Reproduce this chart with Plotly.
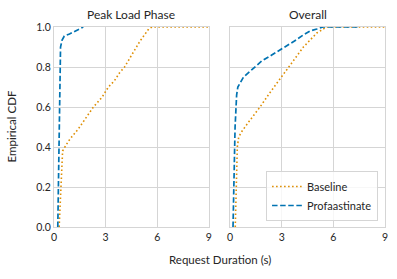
import plotly.graph_objects as go
from plotly.subplots import make_subplots

# Peak Load Phase
peak_base_x = [0.3, 0.38, 0.42, 0.45, 0.5, 0.7, 0.93, 1.41, 1.8, 2.29, 2.8, 3.16, 3.5, 3.8, 4.1, 4.5, 5.0, 5.5, 5.7, 9.0]
peak_base_y = [0.0, 0.15, 0.30, 0.35, 0.38, 0.41, 0.44, 0.49, 0.54, 0.60, 0.65, 0.70, 0.73, 0.77, 0.80, 0.86, 0.93, 0.99, 1.0, 1.0]
peak_prof_x = [0.22, 0.28, 0.33, 0.38, 0.47, 0.6, 0.9, 1.12, 1.4, 1.7]
peak_prof_y = [0.0, 0.4, 0.8, 0.90, 0.935, 0.955, 0.965, 0.975, 0.985, 1.0]

# Overall
all_base_x = [0.3, 0.38, 0.42, 0.5, 0.7, 1.12, 1.74, 2.3, 2.9, 3.6, 4.26, 5.04, 5.6, 9.0]
all_base_y = [0.0, 0.2, 0.40, 0.45, 0.48, 0.53, 0.60, 0.67, 0.74, 0.82, 0.90, 0.97, 1.0, 1.0]
all_prof_x = [0.17, 0.29, 0.38, 0.45, 0.78, 1.45, 1.84, 2.42, 3.2, 3.74, 4.25, 4.65, 5.04, 5.4, 7.4]
all_prof_y = [0.0, 0.5, 0.66, 0.70, 0.75, 0.80, 0.83, 0.86, 0.90, 0.93, 0.96, 0.98, 0.99, 1.0, 1.0]

titles = ["Peak Load Phase", "Overall"]
x_ticks = [0, 3, 6, 9]
y_ticks = [0.0, 0.2, 0.4, 0.6, 0.8, 1.0]

ORANGE = "#DE8F05"
BLUE = "#0173B2"
FONT = "Lato"
TXT = "#262626"

fig = make_subplots(rows=1, cols=2, shared_yaxes=True, horizontal_spacing=0.064)

for col, (bx, by, px, py) in enumerate([(peak_base_x, peak_base_y, peak_prof_x, peak_prof_y),
                                         (all_base_x, all_base_y, all_prof_x, all_prof_y)], start=1):
    fig.add_trace(go.Scatter(x=bx, y=by, mode="lines", name="Baseline",
                             line=dict(color=ORANGE, width=1.6, dash="1.6px,2.4px"),
                             showlegend=(col == 2)), row=1, col=col)
    fig.add_trace(go.Scatter(x=px, y=py, mode="lines", name="Profaastinate",
                             line=dict(color=BLUE, width=1.7, dash="5.5px,2.6px"),
                             showlegend=(col == 2)), row=1, col=col)

axis_common = dict(showgrid=True, gridcolor="#D5D5D5", gridwidth=1, zeroline=False,
                   showline=True, linecolor="#D5D5D5", linewidth=1, mirror=True, automargin=False,
                   ticks="", tickfont=dict(family=FONT, size=10.5, color=TXT))
for col in (1, 2):
    fig.update_xaxes(range=[0, 9], tickvals=x_ticks, ticktext=[str(v) for v in x_ticks], row=1, col=col, **axis_common)
    fig.update_yaxes(range=[0, 1], tickvals=y_ticks, ticktext=[f"{v:.1f}" for v in y_ticks], row=1, col=col, **axis_common)

annotations = [
    dict(text=titles[0], x=0.234, y=1.0, xref="paper", yref="paper", xanchor="center", yanchor="bottom", yshift=3,
         showarrow=False, font=dict(family=FONT, size=12, color=TXT)),
    dict(text=titles[1], x=0.766, y=1.0, xref="paper", yref="paper", xanchor="center", yanchor="bottom", yshift=3,
         showarrow=False, font=dict(family=FONT, size=12, color=TXT)),
    dict(text="Request Duration (s)", x=0.5, y=0, xref="paper", yref="paper", xanchor="center", yanchor="top", yshift=-24,
         showarrow=False, font=dict(family=FONT, size=11.5, color=TXT)),
    dict(text="Empirical CDF", x=0, y=0.5, xref="paper", yref="paper", xanchor="right", yanchor="middle", xshift=-35,
         textangle=-90, showarrow=False, font=dict(family=FONT, size=11.5, color=TXT)),
]
fig.update_layout(
    width=397, height=279,
    margin=dict(l=54, r=12, t=27, b=52),
    paper_bgcolor="white", plot_bgcolor="white",
    annotations=annotations,
    legend=dict(x=0.979, y=0.03, xanchor="right", yanchor="bottom",
                bgcolor="rgba(255,255,255,0.8)", bordercolor="#D5D5D5", borderwidth=1,
                font=dict(family=FONT, size=11, color=TXT), tracegroupgap=0, itemwidth=30),
    font=dict(family=FONT, color=TXT),
)
fig.write_html("out.html", config={"displayModeBar": False},
               post_script="document.body.style.margin='0';")
